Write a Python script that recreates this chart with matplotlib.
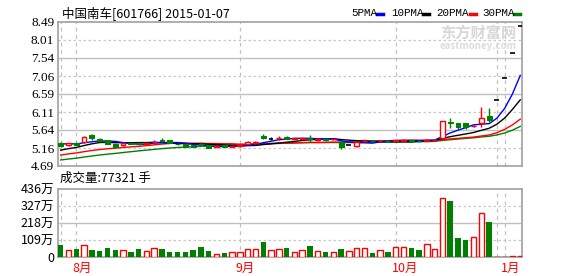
import numpy as np
import pandas as pd
import matplotlib
matplotlib.use("Agg")
import matplotlib.pyplot as plt
import matplotlib.transforms as mtransforms

plt.rcParams['font.family'] = ['Noto Sans CJK SC', 'DejaVu Sans']

# closes of the 29 sessions before the first visible candle (only feed the MAs)
prev_closes = [4.55, 4.57, 4.56, 4.58, 4.60, 4.59, 4.61, 4.60, 4.62, 4.62,
               4.70, 4.74, 4.78, 4.80, 4.84, 4.86, 4.90, 4.92, 4.96, 5.00,
               4.90, 4.93, 4.95, 4.97, 5.00,
               5.22, 5.30, 5.28, 5.30]

opens = [5.30, 5.23, 5.30, 5.31, 5.50, 5.40, 5.37, 5.27, 5.23, 5.30,
         5.29, 5.27, 5.31, 5.37, 5.38, 5.28, 5.26, 5.24, 5.26, 5.24,
         5.20, 5.23, 5.20, 5.21, 5.27, 5.30, 5.49, 5.41, 5.43, 5.46,
         5.40, 5.41, 5.42, 5.38, 5.39, 5.39, 5.33, 5.24, 5.22, 5.35,
         5.36, 5.35, 5.36, 5.35, 5.36, 5.37, 5.36, 5.36, 5.37, 5.42,
         5.84, 5.81, 5.81, 5.74, 5.81, 6.01, 6.43, 7.01, 7.66, 8.38]
highs = [5.33, 5.30, 5.32, 5.47, 5.52, 5.42, 5.38, 5.28, 5.30, 5.31,
         5.32, 5.30, 5.38, 5.44, 5.38, 5.30, 5.27, 5.25, 5.32, 5.25,
         5.23, 5.24, 5.23, 5.25, 5.34, 5.35, 5.53, 5.46, 5.49, 5.47,
         5.43, 5.44, 5.51, 5.42, 5.41, 5.41, 5.34, 5.25, 5.32, 5.39,
         5.37, 5.37, 5.37, 5.38, 5.39, 5.38, 5.37, 5.39, 5.39, 5.87,
         5.95, 5.82, 5.82, 5.77, 6.25, 6.22, 6.43, 7.01, 7.66, 8.38]
lows = [5.20, 5.21, 5.23, 5.29, 5.38, 5.33, 5.26, 5.19, 5.21, 5.26,
        5.25, 5.25, 5.27, 5.31, 5.29, 5.25, 5.18, 5.19, 5.23, 5.16,
        5.18, 5.18, 5.19, 5.20, 5.26, 5.26, 5.40, 5.37, 5.37, 5.39,
        5.39, 5.40, 5.33, 5.36, 5.36, 5.38, 5.15, 5.23, 5.19, 5.33,
        5.34, 5.34, 5.34, 5.34, 5.35, 5.31, 5.32, 5.35, 5.36, 5.40,
        5.68, 5.66, 5.66, 5.72, 5.71, 5.86, 6.43, 7.01, 7.66, 8.38]
closes = [5.225, 5.29, 5.25, 5.45, 5.42, 5.35, 5.27, 5.20, 5.29, 5.28,
          5.27, 5.29, 5.33, 5.36, 5.30, 5.26, 5.19, 5.20, 5.25, 5.17,
          5.21, 5.19, 5.22, 5.24, 5.33, 5.31, 5.42, 5.41, 5.44, 5.40,
          5.42, 5.43, 5.40, 5.39, 5.38, 5.40, 5.20, 5.24, 5.31, 5.36,
          5.35, 5.36, 5.35, 5.37, 5.38, 5.36, 5.35, 5.38, 5.38, 5.87,
          5.82, 5.72, 5.71, 5.75, 5.95, 5.90, 6.43, 7.01, 7.66, 8.38]
# volume in 万手
volumes = [77, 45, 54, 77, 45, 39, 60, 45, 45, 32,
           51, 39, 60, 51, 32, 32, 32, 45, 64, 39,
           17, 24, 32, 32, 51, 51, 97, 45, 51, 58,
           30, 45, 71, 39, 32, 32, 51, 39, 58, 58,
           26, 45, 32, 64, 64, 58, 45, 84, 51, 378,
           361, 122, 109, 129, 283, 225, 1, 1, 9, 7.73]

month_lines = [0, 2, 23, 43, 56, 57]
month_ticks = [2, 23, 43, 57]
month_labels = ['8月', '9月', '10月', '1月']
price_ticks = [4.69, 5.16, 5.64, 6.11, 6.59, 7.06, 7.54, 8.01, 8.49]
vol_ticks = [0, 109, 218, 327, 436]
vol_labels = ['0', '109万', '218万', '327万', '436万']

RED = '#ff0000'
GREEN = '#008000'
FRAME = '#a0a0a0'

n = len(closes)
x = np.arange(n)
o = np.array(opens); h = np.array(highs); l = np.array(lows); c = np.array(closes)

allc = pd.Series(prev_closes + closes)
mas = {}
for w in (5, 10, 20, 30):
    mas[w] = allc.rolling(w).mean().values[-n:]

fig = plt.figure(figsize=(5.78, 2.76), dpi=100)
W, H = 578.0, 276.0
ax = fig.add_axes([58.3 / W, 1 - 166 / H, 464 / W, 144.3 / H])
axv = fig.add_axes([58.3 / W, 1 - 257 / H, 464 / W, 67.7 / H])

xl = (-0.31, 59.26)
for a in (ax, axv):
    a.set_xlim(*xl)
    for s in a.spines.values():
        s.set_color(FRAME)
        s.set_linewidth(1.2)
    a.tick_params(length=0)
    for m in month_lines:
        a.axvline(m, color='#c0c0c0', lw=0.9, ls=(0, (3, 3)), zorder=0)
    a.set_xticks([])

# price panel
ax.set_ylim(4.69, 8.49)
for k, v in enumerate(price_ticks[1:-1]):
    if k % 2 == 0:
        ax.axhline(v, color='#c8c8c8', lw=0.9, ls=(0, (2, 2)), zorder=0)
    else:
        ax.axhline(v, color='#c0c0c0', lw=1.0, zorder=0)
ax.set_yticks(price_ticks)
ax.set_yticklabels(['%.2f' % v for v in price_ticks], family='Liberation Serif', fontsize=9.5)
off = mtransforms.ScaledTranslation(0, 2.5 / 100, fig.dpi_scale_trans)
for lab in ax.get_yticklabels():
    lab.set_transform(lab.get_transform() + off)
ax.tick_params(axis='y', pad=3)

ma_cols = {5: '#0000ff', 10: '#000000', 20: RED, 30: GREEN}
for w in (30, 20, 10, 5):
    ax.plot(x, mas[w], color=ma_cols[w], lw=1.0, zorder=2)

bw = 0.62
for i in range(n):
    if c[i] > o[i]:
        ax.vlines(i, l[i], o[i], color=RED, lw=1, zorder=3)
        ax.vlines(i, c[i], h[i], color=RED, lw=1, zorder=3)
        ax.bar(i, c[i] - o[i], bottom=o[i], width=bw, facecolor='white',
               edgecolor=RED, lw=1, zorder=4)
    elif c[i] < o[i]:
        ax.vlines(i, l[i], h[i], color=GREEN, lw=1, zorder=3)
        ax.bar(i, o[i] - c[i], bottom=c[i], width=bw, color=GREEN,
               edgecolor=GREEN, lw=0.8, zorder=4)
    else:
        ax.vlines(i, l[i], h[i], color='black', lw=1, zorder=3)
        ax.hlines(c[i], i - bw / 2, i + bw / 2, color='black', lw=1.2, zorder=4)

# volume panel
axv.set_ylim(0, 436)
for k, v in enumerate(vol_ticks[1:-1]):
    if k == 1:
        axv.axhline(v, color='#c0c0c0', lw=1.0, zorder=0)
    else:
        axv.axhline(v, color='#c8c8c8', lw=0.9, ls=(0, (2, 2)), zorder=0)
axv.set_yticks(vol_ticks)
axv.set_yticklabels(vol_labels, fontsize=9)
off2 = mtransforms.ScaledTranslation(0, -3.5 / 100, fig.dpi_scale_trans)
for lab in axv.get_yticklabels():
    lab.set_transform(lab.get_transform() + off2)
axv.tick_params(axis='y', pad=3)

vb = 0.7
for i in range(n):
    if c[i] >= o[i]:
        axv.bar(i, volumes[i], width=vb, facecolor='white', edgecolor=RED, lw=1, zorder=3)
    else:
        axv.bar(i, volumes[i], width=vb, color=GREEN, zorder=3)

# month labels under the volume panel
for t, s in zip(month_ticks, month_labels):
    axv.annotate(s, xy=(t, 0), xycoords=('data', 'axes fraction'),
                 xytext=(-4, -11), textcoords='offset pixels',
                 ha='left', va='center', color=RED, fontsize=9)

# header texts
fig.text(62 / W, 1 - 13 / H, '中国南车[601766] 2015-01-07', fontsize=9,
         va='center', ha='left')
fig.text(60 / W, 1 - 178 / H, '成交量:77321 手', fontsize=9, va='center', ha='left')

leg = [('5PMA', 351, 377, '#0000ff'), ('10PMA', 391, 423, '#000000'),
       ('20PMA', 436, 470, RED), ('30PMA', 482, 514, GREEN)]
for name, tx, dx, col in leg:
    fig.text(tx / W, 1 - 13 / H, name, fontsize=7.8, family='Liberation Mono',
             va='center', ha='left')
    fig.lines.append(plt.Line2D([dx / W, (dx + 6) / W], [1 - 13.5 / H, 1 - 13.5 / H],
                                transform=fig.transFigure, color=col, lw=2.5))

# watermark
fig.text(478 / W, 1 - 33 / H, '东方财富网', fontsize=11, fontweight='bold',
         color='#d8d8d8', ha='center', va='center')
fig.text(478 / W, 1 - 46 / H, 'eastmoney.com', fontsize=7, fontweight='bold',
         color='#dcdcdc', ha='center', va='center')

fig.savefig('out.png', dpi=100)
